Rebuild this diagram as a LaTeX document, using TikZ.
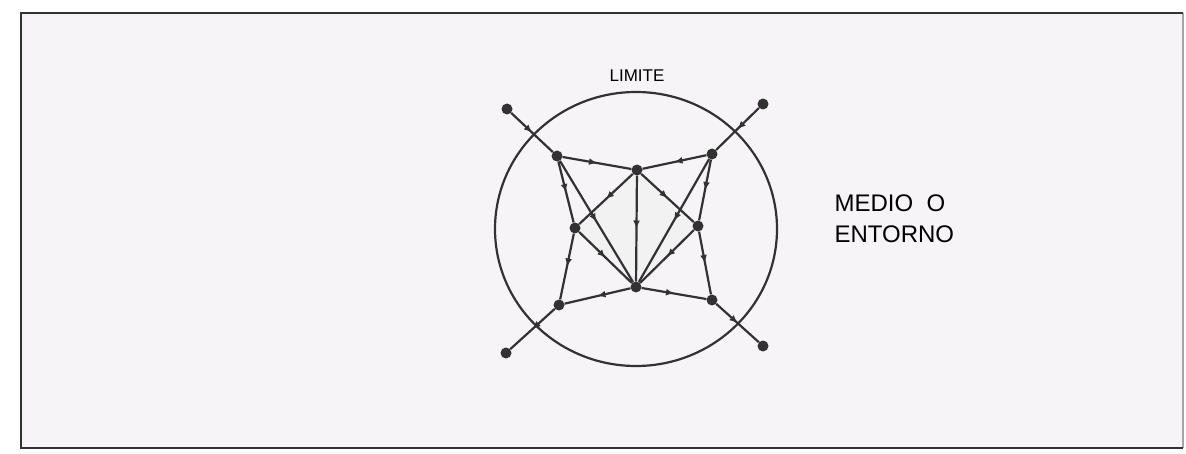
\documentclass[tikz,border=0pt]{standalone}
\usepackage{fontspec}
\setmainfont{Liberation Sans}
\usetikzlibrary{arrows.meta,decorations.markings,shapes.geometric}
\definecolor{paper}{RGB}{247,244,248}
\definecolor{ink}{RGB}{50,50,50}
\tikzset{
  dot/.style={circle,fill=ink,inner sep=0pt,minimum size=11pt},
  flow/.style={ink,line width=2.2pt,postaction={decorate},
    decoration={markings,mark=at position 0.5 with {\arrow{Latex[length=8pt,width=7pt]}}}},
}
\begin{document}
\begin{tikzpicture}[x=1pt,y=-1pt]
  \useasboundingbox (0,0) rectangle (1186,454);
  \fill[paper] (21,13) rectangle (1183,448);
  \draw[gray!70,line width=1.5pt] (1183,13) -- (1183,448);
  \draw[ink,line width=2.8pt] (1183,13) -- (21,13) -- (21,448) -- (1183,448);

  % limite del sistema
  \node[ellipse,draw=ink,line width=2.2pt,minimum width=282pt,minimum height=274pt] (lim) at (636,229) {};
  \node[anchor=base,font=\fontsize{17}{20}\selectfont] (limtxt) at (637,82) {LIMITE};

  \coordinate (lm) at (575,228);
  \coordinate (tc) at (637,170);
  \coordinate (rm) at (698,226);
  \coordinate (bc) at (636,287);
  \fill[black!5] (lm) -- (tc) -- (rm) -- (bc) -- cycle;

  \node[dot] (otl) at (507,109) {};
  \node[dot] (otr) at (763,104) {};
  \node[dot] (obl) at (506,353) {};
  \node[dot] (obr) at (763,346) {};
  \node[dot] (tl) at (557,156) {};
  \node[dot] (tr) at (712,154) {};
  \node[dot] (top) at (tc) {};
  \node[dot] (left) at (lm) {};
  \node[dot] (right) at (rm) {};
  \node[dot] (bot) at (bc) {};
  \node[dot] (bl) at (559,305) {};
  \node[dot] (br) at (712,300) {};

  \draw[flow] (otl) -- (tl);
  \draw[flow] (otr) -- (tr);
  \draw[flow] (tl) -- (top);
  \draw[flow] (tr) -- (top);
  \draw[flow] (tl) -- (left);
  \draw[flow] (tr) -- (right);
  \draw[flow] (top) -- (left);
  \draw[flow] (top) -- (right);
  \draw[flow] (top) -- (bot);
  \draw[flow] (tl) -- (bot);
  \draw[flow] (tr) -- (bot);
  \draw[flow] (left) -- (bot);
  \draw[flow] (right) -- (bot);
  \draw[flow] (left) -- (bl);
  \draw[flow] (right) -- (br);
  \draw[flow] (bot) -- (bl);
  \draw[flow] (bot) -- (br);
  \draw[flow] (bl) -- (obl);
  \draw[flow] (br) -- (obr);

  \node[anchor=base west,align=left,font=\fontsize{24}{31}\selectfont] (medio) at (831,243) {MEDIO\ \ O\\ENTORNO};
\end{tikzpicture}
\end{document}
